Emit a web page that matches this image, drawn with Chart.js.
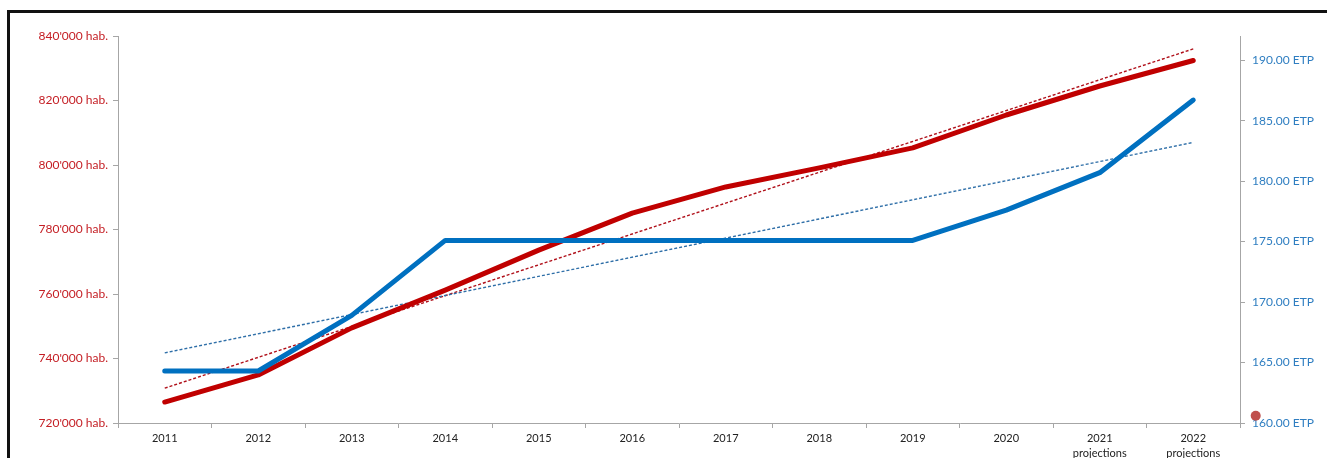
<!DOCTYPE html>
<html><head><meta charset="utf-8">
<script src="https://cdn.jsdelivr.net/npm/chart.js@4"></script>
<style>
html,body{margin:0;padding:0;background:#fff;}
#wrap{position:relative;width:1327px;height:458px;overflow:hidden;background:#fff;}
#frame{position:absolute;left:7px;top:10px;width:1400px;height:600px;border-top:3px solid #111;border-left:3px solid #111;}
canvas{position:absolute;left:0;top:0;}
</style></head>
<body>
<div id="wrap"><div id="frame"></div><canvas id="c" width="1327" height="458"></canvas></div>
<script>
const categories = ['2011','2012','2013','2014','2015','2016','2017','2018','2019','2020',['2021','projections'],['2022','projections']];
const population = [726500, 734900, 749500, 761200, 773600, 785100, 793200, 799100, 805300, 815500, 824500, 832400];
const etp = [164.3, 164.3, 168.9, 175.1, 175.1, 175.1, 175.1, 175.1, 175.1, 177.6, 180.7, 186.7];
const populationTrend = [730800, null, null, null, null, null, null, null, null, null, null, 836000];
const etpTrend = [165.8, null, null, null, null, null, null, null, null, null, null, 183.2];
const markerPoint = [{x: 1.014, y: 160.6}];
const leftTicks = [720000, 740000, 760000, 780000, 800000, 820000, 840000];
const rightTicks = [160, 165, 170, 175, 180, 185, 190];

const RED = '#c00000', BLUE = '#0070c0', AXIS = '#a6a6a6';
const fmtHab = v => String(v).replace(/(\d)(?=(\d{3})+$)/g, "$1'") + ' hab.';
const fmtEtp = v => v.toFixed(2) + ' ETP';

new Chart(document.getElementById('c'), {
  type: 'line',
  data: {
    labels: categories,
    datasets: [
      {data: populationTrend, yAxisID: 'y', borderColor: '#b0101a', borderWidth: 1.4, borderDash: [3, 2], pointRadius: 0, spanGaps: true, order: 4},
      {data: etpTrend, yAxisID: 'y1', borderColor: '#2f6fa8', borderWidth: 1.4, borderDash: [3, 2], pointRadius: 0, spanGaps: true, order: 3},
      {data: population, yAxisID: 'y', borderColor: RED, borderWidth: 5, pointRadius: 0, borderCapStyle: 'round', borderJoinStyle: 'round', order: 2},
      {data: etp, yAxisID: 'y1', borderColor: BLUE, borderWidth: 5, pointRadius: 0, borderCapStyle: 'round', borderJoinStyle: 'round', order: 1},
      {type: 'scatter', data: markerPoint, xAxisID: 'xDot', yAxisID: 'y1', backgroundColor: '#c0504d', borderColor: '#c0504d', borderWidth: 0, pointRadius: 5, pointHoverRadius: 24, clip: false, order: 0}
    ]
  },
  options: {
    responsive: false,
    animation: false,
    devicePixelRatio: 1,
    events: [],
    layout: {padding: {top: 36, left: 0, right: 0, bottom: 0}},
    plugins: {legend: {display: false}, tooltip: {enabled: false}},
    scales: {
      x: {
        type: 'category',
        offset: true,
        grid: {display: true, drawOnChartArea: false, drawTicks: true, tickLength: 5, offset: true, color: AXIS},
        border: {display: true, color: AXIS, width: 1},
        ticks: {color: '#222', font: {family: 'Lato', size: 11, lineHeight: 1.35}, padding: 3, maxRotation: 0, autoSkip: false},
        afterFit: s => { s.height = 35; }
      },
      xDot: {type: 'linear', position: 'top', display: false, min: 0, max: 1},
      y: {
        position: 'left', min: 720000, max: 840000,
        afterBuildTicks: s => { s.ticks = leftTicks.map(v => ({value: v})); },
        grid: {display: true, drawOnChartArea: false, drawTicks: true, tickLength: 5, color: AXIS},
        border: {display: true, color: AXIS, width: 1},
        ticks: {color: '#c41e24', font: {family: 'Lato', size: 12}, padding: 5, callback: v => fmtHab(v)},
        afterFit: s => { s.width = 118; }
      },
      y1: {
        position: 'right', min: 160, max: 192,
        afterBuildTicks: s => { s.ticks = rightTicks.map(v => ({value: v})); },
        grid: {display: true, drawOnChartArea: false, drawTicks: true, tickLength: 5, color: AXIS},
        border: {display: true, color: AXIS, width: 1},
        ticks: {color: '#2f7ec1', font: {family: 'Lato', size: 12}, padding: 7, callback: v => fmtEtp(v)},
        afterFit: s => { s.width = 87; }
      }
    }
  }
});
</script>
</body></html>
